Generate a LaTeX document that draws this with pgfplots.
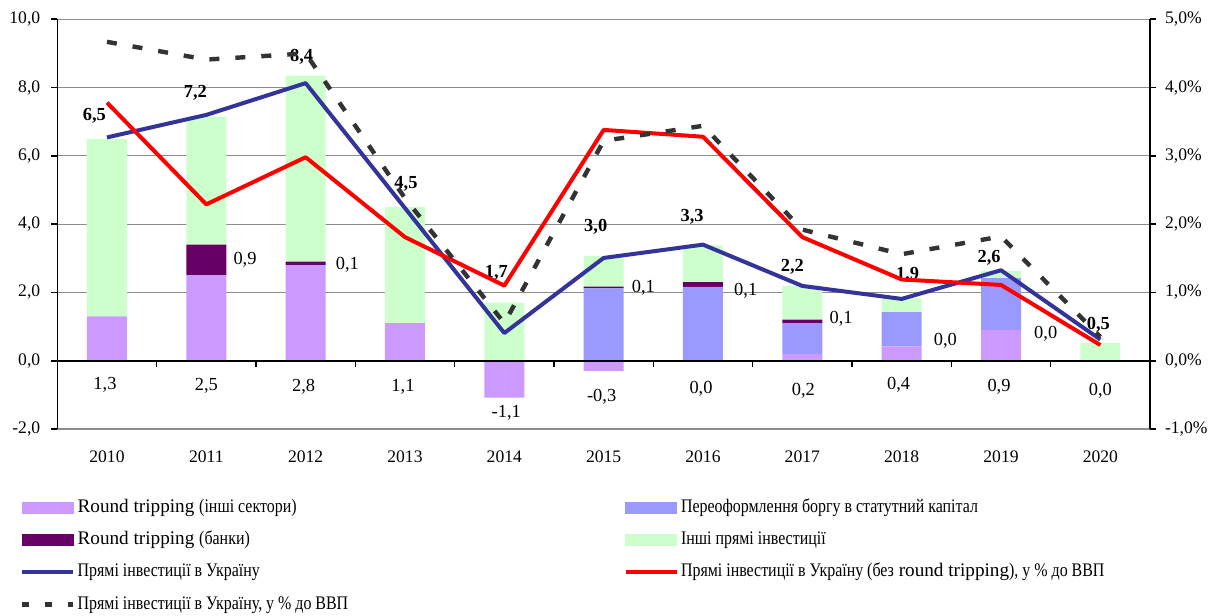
\documentclass[border=0pt]{standalone}
\usepackage{pgfplots}
\pgfplotsset{compat=1.18}
\usepackage{fontspec}
\setmainfont{Liberation Serif}
\newfontfamily\cyr{Liberation Serif}[FakeStretch=0.83]
\definecolor{lp}{HTML}{CC99FF}
\definecolor{bl}{HTML}{9999FF}
\definecolor{dp}{HTML}{660066}
\definecolor{gr}{HTML}{CCFFCC}
\definecolor{nv}{HTML}{333399}
\definecolor{rd}{HTML}{FF0000}
\definecolor{dk}{HTML}{333333}
\definecolor{gl}{HTML}{8C8C8C}
\newcommand{\fs}{\fontsize{8.8}{10.5}\selectfont}
\newcommand{\fl}{\fontsize{9.6}{11}\selectfont}
\pgfplotsset{
  myax/.style={
    at={(0,0)}, anchor=south west, scale only axis,
    width=546.35pt, height=204.85pt,
    xmin=-0.5, xmax=10.5, enlargelimits=false,
    clip=false,
    /pgf/number format/assume math mode=true,
    tick label style={font=\fs},
  },
  lbl/.style={only marks, mark=*, mark size=0pt, mark options={draw=none, fill=none},
    point meta=explicit symbolic, nodes near coords,
    every node near coord/.style={anchor=center, inner sep=0pt, text=black, font=\fontsize{9.2}{11}\selectfont #1}},
}
\begin{document}
\begin{tikzpicture}
\useasboundingbox (-28.65pt,-93pt) rectangle (577.85pt,214.5pt);
% ---------- Axis A: stacked bars, left scale, grid ----------
\begin{axis}[myax, ymin=-2, ymax=10,
  ybar stacked, bar width=20pt,
  xtick={0,...,10},
  xticklabels={2010,2011,2012,2013,2014,2015,2016,2017,2018,2019,2020},
  xtick style={draw=none},
  xticklabel style={yshift=-4.5pt},
  ytick={-2,0,...,10},
  yticklabel style={/pgf/number format/.cd, fixed, fixed zerofill, precision=1, use comma, /tikz/.cd, xshift=-2pt},
  ymajorgrids, grid style={gl, line width=0.6pt},
  axis x line*=bottom, axis y line*=left,
  x axis line style={gl, line width=0.6pt, -},
  y axis line style={black, line width=0.8pt, -},
  ytick style={black, line width=0.8pt},
  tick align=outside, major tick length=3pt,
]
% Round tripping (other sectors), positive part
\addplot[fill=lp, draw=none] coordinates {(0,1.3)(1,2.5)(2,2.8)(3,1.1)(4,0)(5,0)(6,0)(7,0.2)(8,0.42)(9,0.9)(10,0)};
% Debt conversion into equity
\addplot[fill=bl, draw=none] coordinates {(0,0)(1,0)(2,0)(3,0)(4,0)(5,2.12)(6,2.16)(7,0.9)(8,1.0)(9,1.52)(10,0)};
% Round tripping (banks)
\addplot[fill=dp, draw=none] coordinates {(0,0)(1,0.9)(2,0.1)(3,0)(4,0)(5,0.05)(6,0.14)(7,0.1)(8,0)(9,0)(10,0)};
% Other FDI
\addplot[fill=gr, draw=none] coordinates {(0,5.2)(1,3.75)(2,5.45)(3,3.4)(4,1.7)(5,0.9)(6,1.08)(7,1.0)(8,0.42)(9,0.21)(10,0.52)};
\end{axis}
% ---------- Axis B: negative bars, zero line, FDI line, labels ----------
\begin{axis}[myax, ymin=-2, ymax=10,
  axis y line=none, axis x line*=middle,
  xtick={0.5,1.5,...,9.5}, xticklabels={},
  x axis line style={black, line width=0.8pt, -},
  xtick style={black, line width=0.8pt},
  xtick align=outside, major tick length=3pt,
  axis on top,
]
\addplot[ybar, bar width=20pt, bar shift=0pt, fill=lp, draw=none] coordinates {(4,-1.08)(5,-0.3)};
\addplot[nv, line width=2pt, line join=round, mark=none] coordinates {(0,6.54)(1,7.2)(2,8.13)(3,4.47)(4,0.81)(5,3.01)(6,3.4)(7,2.19)(8,1.81)(9,2.65)(10,0.62)};
% totals (bold)
\addplot[lbl=\bfseries] table[meta=l] {
x y l
-0.127 7.17 6,5
0.89 7.86 7,2
1.96 8.9 8,4
3.01 5.19 4,5
3.92 2.58 1,7
4.92 3.93 3,0
5.89 4.22 3,3
6.90 2.74 2,2
8.06 2.53 1,9
8.88 3.01 2,6
9.98 1.06 0,5
};
% banks
\addplot[lbl=] table[meta=l] {
x y l
1.39 2.95 0,9
2.42 2.82 0,1
5.40 2.13 0,1
6.43 2.05 0,1
7.39 1.23 0,1
8.44 0.58 0,0
9.45 0.79 0,0
};
% other sectors
\addplot[lbl=] table[meta=l] {
x y l
-0.02 -0.71 1,3
1.00 -0.75 2,5
1.98 -0.75 2,8
2.98 -0.77 1,1
4.02 -1.53 -1,1
4.98 -1.06 -0,3
5.98 -0.83 0,0
7.01 -0.87 0,2
7.97 -0.71 0,4
8.98 -0.75 0,9
10.00 -0.87 0,0
};
\end{axis}
% ---------- Axis C: right scale, % of GDP lines, legend ----------
\begin{axis}[myax, ymin=-1, ymax=5,
  axis x line=none, axis y line*=right,
  ytick={-1,0,...,5},
  yticklabel={\pgfmathprintnumber[fixed,fixed zerofill,precision=1,use comma]{\tick}\%},
  yticklabel style={xshift=1pt},
  y axis line style={black, line width=0.8pt, -},
  ytick style={black, line width=0.8pt},
  tick align=outside, major tick length=3pt,
  legend columns=2, legend cell align=left,
  legend style={at={(-0.0341,-0.1696)}, anchor=north west, draw=none, fill=none,
    inner sep=0pt, outer sep=0pt, row sep=6.6pt, column sep=0pt, font=\fl,
    nodes={inner sep=0pt, text height=7pt, text depth=2.5pt}},
]
\addlegendimage{legend image code/.code={\fill[lp] (0pt,-2.75pt) rectangle (25.5pt,2.75pt); \path (27.5pt,0pt);}}
\addlegendentry{\makebox[273pt][l]{Round tripping {\cyr (інші сектори)}}}
\addlegendimage{legend image code/.code={\fill[bl] (0pt,-2.75pt) rectangle (25.5pt,2.75pt); \path (27.5pt,0pt);}}
\addlegendentry{{\cyr Переоформлення боргу в статутний капітал}}
\addlegendimage{legend image code/.code={\fill[dp] (0pt,-2.75pt) rectangle (25.5pt,2.75pt); \path (27.5pt,0pt);}}
\addlegendentry{\makebox[273pt][l]{Round tripping {\cyr (банки)}}}
\addlegendimage{legend image code/.code={\fill[gr] (0pt,-2.75pt) rectangle (25.5pt,2.75pt); \path (27.5pt,0pt);}}
\addlegendentry{{\cyr Інші прямі інвестиції}}
\addlegendimage{legend image code/.code={\draw[nv, line width=2pt] (0pt,0pt) -- (25.5pt,0pt); \path (27.5pt,0pt);}}
\addlegendentry{\makebox[273pt][l]{{\cyr Прямі інвестиції в Україну}}}
\addlegendimage{legend image code/.code={\draw[rd, line width=2pt] (0pt,0pt) -- (25.5pt,0pt); \path (27.5pt,0pt);}}
\addlegendentry{{\cyr Прямі інвестиції в Україну (без} round tripping{\cyr ), у \% до ВВП}}
\addlegendimage{legend image code/.code={\draw[dk, line width=2.2pt, dash pattern=on 3.5pt off 8pt] (0pt,0pt) -- (25.5pt,0pt); \path (27.5pt,0pt);}}
\addlegendentry{{\cyr Прямі інвестиції в Україну, у \% до ВВП}}
\addplot[rd, line width=2pt, line join=round, mark=none, forget plot] coordinates {(0,3.78)(1,2.29)(2,2.98)(3,1.81)(4,1.10)(5,3.38)(6,3.28)(7,1.81)(8,1.19)(9,1.11)(10,0.23)};
\addplot[dk, line width=2.2pt, dash pattern=on 5pt off 8pt, mark=none, forget plot] coordinates {(0,4.67)(1,4.41)(2,4.50)(3,2.38)(4,0.55)(5,3.22)(6,3.44)(7,1.92)(8,1.56)(9,1.82)(10,0.35)};
\end{axis}
\end{tikzpicture}
\end{document}
